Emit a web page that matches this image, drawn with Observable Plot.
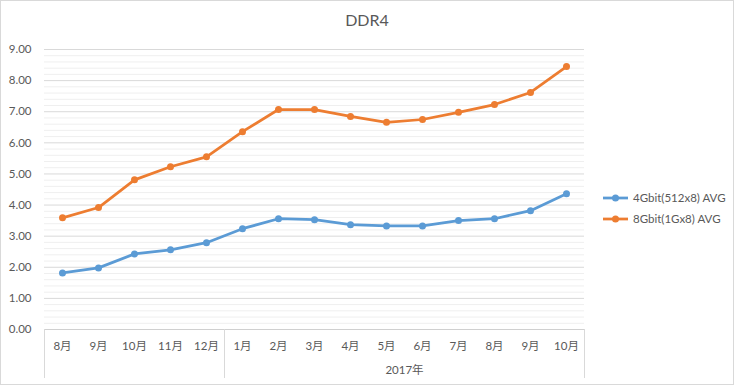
<!DOCTYPE html>
<html>
<head>
<meta charset="utf-8">
<script src="https://cdn.jsdelivr.net/npm/d3@7"></script>
<script src="https://cdn.jsdelivr.net/npm/@observablehq/plot@0.6"></script>
<style>
  html, body { margin: 0; padding: 0; background: #fff; }
  #wrap { position: relative; width: 734px; height: 385px; overflow: hidden; font-family: Lato, "Noto Sans CJK SC", sans-serif; color: #595959; }
  #border { position: absolute; left: 0; top: 0; width: 732px; height: 383px; border: 1px solid #d9d9d9; pointer-events: none; }
  #title { height: 38px; line-height: 40px; text-align: center; font-size: 16px; color: #595959; }
  #chart svg { display: block; }
  .leg { position: absolute; left: 603px; height: 14px; line-height: 14px; font-size: 11.5px; white-space: nowrap; display: flex; align-items: center; }
  .leg svg { display: block; margin-right: 5px; }
</style>
</head>
<body>
<div id="wrap">
  <div id="title"></div>
  <div id="chart"></div>
  <div id="legend"></div>
  <div id="border"></div>
</div>
<script>
const title = "DDR4";
const months = ["8月","9月","10月","11月","12月","1月","2月","3月","4月","5月","6月","7月","8月","9月","10月"];
const groupLabels = ["", "2017年"];
const groupStarts = [0, 5];
const groupEnds = [4, 14];
const seriesNames = ["4Gbit(512x8) AVG", "8Gbit(1Gx8) AVG"];
const series4G = [1.82,1.98,2.43,2.56,2.79,3.24,3.56,3.53,3.37,3.33,3.33,3.50,3.56,3.82,4.36];
const series8G = [3.59,3.92,4.81,5.23,5.55,6.36,7.07,7.07,6.85,6.66,6.75,6.98,7.23,7.62,8.45];
const seriesColors = ["#5B9BD5", "#ED7D31"];
const yTicks = [0,1,2,3,4,5,6,7,8,9];

document.getElementById("title").textContent = title;

const rows = [];
[series4G, series8G].forEach((vals, s) => vals.forEach((v, i) => rows.push({i, v, series: seriesNames[s]})));

const minorTicks = d3.range(0, 9.001, 0.2).map(d => +d.toFixed(1)).filter(d => Math.abs(d - Math.round(d)) > 1e-6);
const boundaries = [groupStarts[0] - 0.5, ...groupEnds.map(e => e + 0.5)];
const groups = groupLabels.map((label, k) => ({label, mid: (groupStarts[k] + groupEnds[k]) / 2}));

function categoryDividers(index, scales, values, dimensions) {
  const g = d3.create("svg:g");
  const y0 = dimensions.height - dimensions.marginBottom;
  for (const b of boundaries) {
    const px = Math.round(scales.x(b)) + 0.5;
    g.append("line").attr("x1", px).attr("x2", px).attr("y1", y0).attr("y2", y0 + 49)
      .attr("stroke", "#d9d9d9").attr("stroke-width", 1);
  }
  return g.node();
}

const chart = Plot.plot({
  width: 734,
  height: 347,
  marginTop: 11,
  marginBottom: 56,
  marginLeft: 44,
  marginRight: 150,
  style: {color: "#595959", fontFamily: "Lato, 'Noto Sans CJK SC', sans-serif", fontSize: "11px", background: "transparent"},
  x: {type: "linear", domain: [-0.5, 14.5]},
  y: {domain: [0, 9]},
  color: {domain: seriesNames, range: seriesColors},
  marks: [
    Plot.gridY(minorTicks, {stroke: "#efefef", strokeOpacity: 1}),
    Plot.gridY(yTicks, {stroke: "#d9d9d9", strokeOpacity: 1}),
    Plot.ruleY([0], {stroke: "#d0d0d0"}),
    Plot.axisY(yTicks, {tickSize: 0, tickPadding: 13, tickFormat: d => d.toFixed(2), fontSize: 11.5, label: null}),
    Plot.axisX(d3.range(months.length), {tickSize: 0, tickPadding: 12, tickFormat: i => months[i], fontSize: 11.5, label: null}),
    Plot.text(groups, {x: "mid", y: () => 0, text: "label", dy: 41, fontSize: 11.5, fill: "#595959"}),
    categoryDividers,
    Plot.line(rows, {x: "i", y: "v", stroke: "series", z: "series", strokeWidth: 2.75, strokeLinejoin: "round", strokeLinecap: "round"}),
    Plot.dot(rows, {x: "i", y: "v", fill: "series", r: 3.5})
  ]
});
document.getElementById("chart").appendChild(chart);

const legendTops = [191, 212];
const legend = document.getElementById("legend");
seriesNames.forEach((name, k) => {
  const row = document.createElement("div");
  row.className = "leg";
  row.style.top = legendTops[k] + "px";
  row.innerHTML = `<svg width="25" height="14"><line x1="0" x2="25" y1="7" y2="7" stroke="${seriesColors[k]}" stroke-width="2.75"/><circle cx="12.5" cy="7" r="3.5" fill="${seriesColors[k]}"/></svg><span></span>`;
  row.querySelector("span").textContent = name;
  legend.appendChild(row);
});
</script>
</body>
</html>
